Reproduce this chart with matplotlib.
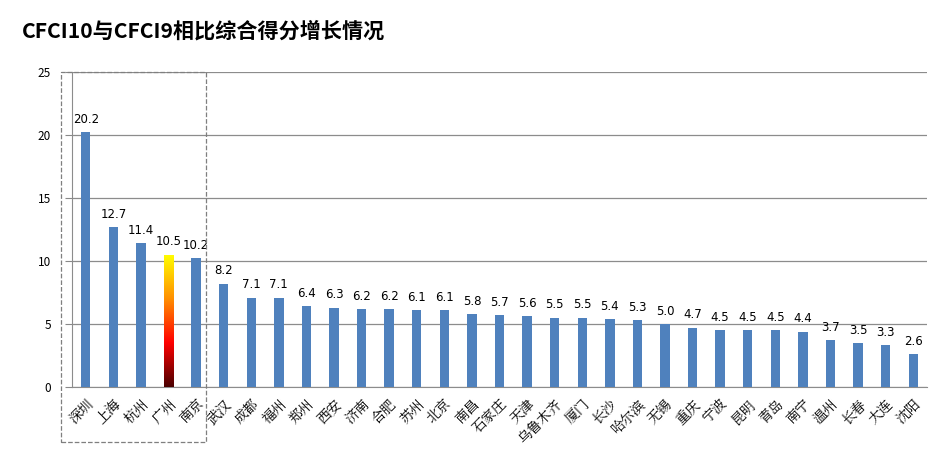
import matplotlib
matplotlib.use("Agg")
import matplotlib.pyplot as plt
import numpy as np
from matplotlib.colors import LinearSegmentedColormap
from matplotlib.patches import Rectangle
import matplotlib.transforms as mtransforms

plt.rcParams['font.family'] = ['Noto Sans CJK SC', 'DejaVu Sans']

cities = ["深圳", "上海", "杭州", "广州", "南京", "武汉", "成都", "福州", "郑州", "西安",
          "济南", "合肥", "苏州", "北京", "南昌", "石家庄", "天津", "乌鲁木齐", "厦门", "长沙",
          "哈尔滨", "无锡", "重庆", "宁波", "昆明", "青岛", "南宁", "温州", "长春", "大连", "沈阳"]
values = [20.2, 12.7, 11.4, 10.5, 10.2, 8.2, 7.1, 7.1, 6.4, 6.3,
          6.2, 6.2, 6.1, 6.1, 5.8, 5.7, 5.6, 5.5, 5.5, 5.4,
          5.3, 5.0, 4.7, 4.5, 4.5, 4.5, 4.4, 3.7, 3.5, 3.3, 2.6]
yticks = [0, 5, 10, 15, 20, 25]
highlight = "广州"

fig = plt.figure(figsize=(9.5, 4.54), dpi=100)
ax = fig.add_axes([72/950, 67/454, 855/950, 315/454])

x = np.arange(len(cities))
bars = ax.bar(x, values, width=0.34, color="#4f81bd", zorder=3)

# gradient bar
cmap = LinearSegmentedColormap.from_list("grad", ["#4a0000", "#ff0000", "#ff9000", "#ffff00"])
i = cities.index(highlight)
b = bars[i]
b.set_facecolor("none")
grad = np.linspace(0, 1, 256).reshape(-1, 1)
im = ax.imshow(grad, cmap=cmap, origin="lower", aspect="auto", zorder=3,
               extent=[b.get_x(), b.get_x() + b.get_width(), 0, values[i]])
im.set_clip_path(b)

for xi, v in zip(x, values):
    ax.text(xi, v + 0.5, f"{v:.1f}", ha="center", va="bottom", fontsize=8.5,
            family=["DejaVu Sans"], zorder=4)

ax.set_xlim(-0.5, len(cities) - 0.5)
ax.set_ylim(0, 25)
ax.set_yticks(yticks)
ax.tick_params(axis="y", labelsize=8.5, length=5, pad=10, color="#888888")
ax.tick_params(axis="x", length=0)
ax.grid(axis="y", color="#8c8c8c", linewidth=0.9, zorder=0)
ax.set_xticks(x)
ax.set_xticklabels(cities, rotation=45, ha="right", va="top", rotation_mode="anchor",
                   fontsize=10, family=["Noto Serif CJK SC", "Noto Sans CJK SC"])
for lab in ax.get_xticklabels():
    lab.set_y(-0.015)
for s in ["top", "right"]:
    ax.spines[s].set_visible(False)
ax.spines["left"].set_color("#8c8c8c")
ax.spines["bottom"].set_color("#8c8c8c")

# dashed box around top five
trans = mtransforms.blended_transform_factory(ax.transData, ax.transAxes)
rect = Rectangle((-0.9, -0.175), 4.35 + 0.9, 1.175, transform=trans, fill=False,
                 linestyle="--", edgecolor="#7f7f7f", linewidth=0.9, clip_on=False, zorder=5)
ax.add_patch(rect)

fig.text(22/950, 1 - 31/454, "CFCI10与CFCI9相比综合得分增长情况", fontsize=15.2,
         fontweight="bold", va="center", ha="left")

fig.savefig("out.png", dpi=100)
